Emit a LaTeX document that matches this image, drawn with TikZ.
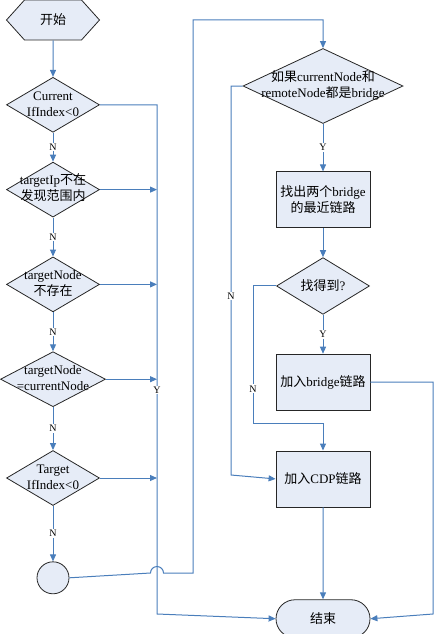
\documentclass[tikz,border=0pt]{standalone}
\usepackage{fontspec}
\setmainfont{Liberation Serif}
\newfontfamily\cjk{Noto Sans CJK SC}
\usepackage{tikz}
\usetikzlibrary{positioning,shapes.geometric,shapes.misc,shapes.symbols,arrows.meta}
\newcommand{\zh}[1]{{\cjk #1}}
\newcommand{\dtext}[2]{\makebox[0pt]{\begin{tabular}{@{}c@{}}#1\\#2\end{tabular}}}
\definecolor{flowblue}{HTML}{4A7EBB}
\definecolor{boxfill}{HTML}{E6ECF7}
\tikzset{node distance=30pt,
  every node/.style={font=\fontsize{13}{16}\selectfont},
  shapebase/.style={draw=black!85, fill=boxfill, line width=0.8pt, inner sep=0pt},
  terminal/.style={shapebase, signal, signal to=west and east, signal pointer angle=96, minimum width=93pt, minimum height=40pt},
  decision/.style={shapebase, diamond, minimum width=93pt, minimum height=55pt},
  process/.style={shapebase, rectangle, minimum width=94pt, minimum height=56pt, align=center},
  stop/.style={shapebase, rounded rectangle, minimum width=94pt, minimum height=38pt},
  joint/.style={shapebase, circle, minimum size=32pt},
  flow/.style={draw=flowblue, line width=1pt, -{Triangle[length=7pt,width=6pt]}},
  lbl/.style={fill=white, inner sep=1pt, font=\fontsize{10}{12}\selectfont}}

\begin{document}
\begin{tikzpicture}[x=1pt, y=-1pt]
\useasboundingbox (0,0) rectangle (434,634);
\node[terminal] (start) at (53,20) {\zh{开始}};
\node[decision] (cur) [below=36.5pt of start] {\dtext{Current}{IfIndex<0}};
\node[decision] (tip) [below=29pt of cur] {\dtext{targetIp\zh{不在}}{\zh{发现范围内}}};
\node[decision] (tnode) [below=39pt of tip] {\dtext{targetNode}{\zh{不存在}}};
\node[decision, minimum width=105pt] (same) [below=39pt of tnode] {\dtext{targetNode}{=currentNode}};
\node[decision] (tidx) [below=43pt of same] {\dtext{Target}{IfIndex<0}};
\node[joint] (link) [below=55.5pt of tidx] {};

\node[decision, minimum width=160pt, minimum height=75pt] (both) at (323,86) {\dtext{\zh{如果}currentNode\zh{和}}{remoteNode\zh{都是}bridge}};
\node[process] (near) [below=47.5pt of both] {\zh{找出两个}bridge\\\zh{的最近链路}};
\node[decision, minimum height=56pt] (found) [below=29pt of near] {\zh{找得到}?};
\node[process] (addbr) [below=39pt of found] {\zh{加入}bridge\zh{链路}};
\node[process] (addcdp) [below=40pt of addbr] {\zh{加入}CDP\zh{链路}};
\node[stop] (finish) [below=92pt of addcdp] {\zh{结束}};

\coordinate (ybus) at (157,614);
\coordinate (hop) at (150.5,573);
\coordinate (loop) at (193,20);
\coordinate (nbus) at (231,475);
\coordinate (nfork) at (253,423);
\coordinate (rbus) at (433,614);

% left column
\draw[flow] (start) -- (cur);
\draw[flow] (cur) -- node[lbl] (n1) {N} (tip);
\draw[flow] (tip) -- node[lbl] (n2) {N} (tnode);
\draw[flow] (tnode) -- node[lbl] (n3) {N} (same);
\draw[flow] (same) -- node[lbl] (n4) {N} (tidx);
\draw[flow] (tidx) -- node[lbl] (n5) {N} (link);
\draw[flow] (cur.east) -| node[lbl, pos=0.78] (y1) {Y} (ybus) -- (finish.west);
\foreach \d in {tip,tnode,same,tidx}
  \draw[flow] (\d.east) -- (\d.east -| ybus);
\draw[flow] (link.east) -- (hop) arc[start angle=180, end angle=0, radius=6.5pt] -- (loop |- hop) -- (loop) -| (both.north);

% right column
\draw[flow] (both) -- node[lbl] (y2) {Y} (near);
\draw[flow] (near) -- (found);
\draw[flow] (found) -- node[lbl] (y3) {Y} (addbr);
\draw[flow] (both.west) -| node[lbl, pos=0.77] (n6) {N} (nbus) -- (addcdp.west);
\draw[flow] (found.west) -| node[lbl, pos=0.875] (n7) {N} (nfork) -| (addcdp.north);
\draw[flow] (addbr.east) -| (rbus) -- (finish.east);
\draw[flow] (addcdp) -- (finish);
\end{tikzpicture}
\end{document}
